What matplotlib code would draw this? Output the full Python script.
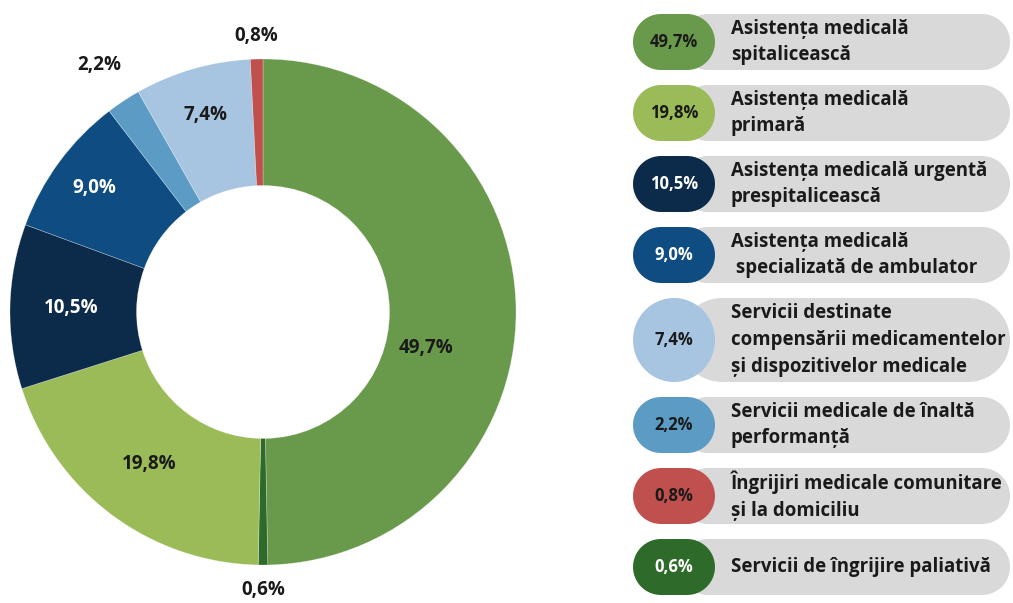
import numpy as np
import matplotlib
matplotlib.use("Agg")
import matplotlib.pyplot as plt
from matplotlib.patches import Polygon

plt.rcParams['font.family'] = ['Open Sans', 'DejaVu Sans']

# legend order
categories = [
    "Asistența medicală\nspitalicească",
    "Asistența medicală\nprimară",
    "Asistența medicală urgentă\nprespitalicească",
    "Asistența medicală\n specializată de ambulator",
    "Servicii destinate\ncompensării medicamentelor\nși dispozitivelor medicale",
    "Servicii medicale de înaltă\nperformanță",
    "Îngrijiri medicale comunitare\nși la domiciliu",
    "Servicii de îngrijire paliativă",
]
shares = [49.7, 19.8, 10.5, 9.0, 7.4, 2.2, 0.8, 0.6]
colors = ["#699a4c", "#9bbb59", "#0c2a49", "#0f4c81", "#a7c4e0", "#5b9bc4", "#c0504d", "#2e6b2a"]
text_colors = ["#1a1a1a", "#1a1a1a", "white", "white", "#1a1a1a", "#1a1a1a", "#1a1a1a", "white"]

# order of the slices around the ring, clockwise from 12 o'clock
pie_order = [0, 7, 1, 2, 3, 5, 4, 6]
# label placement: radius as fraction of outer radius, angular nudge in degrees
label_r = [0.66, 1.1, 0.75, 0.76, 0.83, 1.17, 0.81, 1.09]
label_nudge = [-13, 0, 0, 0, 0, 0, 0, 0]


def fmt(v):
    return f"{v:.1f}%".replace('.', ',')


def stadium(x0, y0, w, h, **kw):
    # rectangle with fully rounded left/right ends
    r = min(w, h) / 2
    ry = h / 2
    t = np.linspace(-np.pi / 2, np.pi / 2, 40)
    right = np.column_stack([x0 + w - r + r * np.cos(t), y0 + ry + ry * np.sin(t)])
    left = np.column_stack([x0 + r - r * np.cos(t), y0 + ry - ry * np.sin(t)])
    return Polygon(np.vstack([right, left]), closed=True, **kw)


W, H = 1013, 603
fig = plt.figure(figsize=(W / 100, H / 100), dpi=100)
ax = fig.add_axes([0, 0, 1, 1])

cx, cy, R = 263, H - 312, 253
vals = [shares[i] for i in pie_order]
cols = [colors[i] for i in pie_order]
ax.pie(vals, colors=cols, startangle=90, counterclock=False, center=(cx, cy), radius=R,
       wedgeprops=dict(width=R * 0.5, edgecolor=(1, 1, 1, 0.35), linewidth=0.5), frame=True)
ax.set_xlim(0, W)
ax.set_ylim(0, H)
ax.set_aspect('equal')
ax.axis('off')

cum = np.cumsum([0] + vals)
for k, i in enumerate(pie_order):
    mid = 90 - 360 * (cum[k] + cum[k + 1]) / 2 / 100 + label_nudge[k]
    r = R * label_r[k]
    x = cx + r * np.cos(np.radians(mid))
    y = cy + r * np.sin(np.radians(mid))
    inside = label_r[k] < 1
    tc = text_colors[i] if inside else "#1a1a1a"
    ax.text(x, y, fmt(shares[i]), ha='center', va='center', fontsize=13.5,
            fontweight='bold', color=tc)

# legend pills
top = H - 14
gap = 15
for i, lab in enumerate(categories):
    nlines = lab.count('\n') + 1
    h = 56 if nlines <= 2 else 84
    yc = top - h / 2
    ax.add_patch(stadium(680, yc - h / 2, 330, h, facecolor="#d9d9d9", edgecolor='none'))
    bw = 82
    ax.add_patch(stadium(674 - bw / 2, yc - h / 2, bw, h, facecolor=colors[i], edgecolor='none'))
    ax.text(674, yc, fmt(shares[i]), ha='center', va='center', fontsize=12,
            fontweight='bold', color=text_colors[i])
    ax.text(731, yc, lab, ha='left', va='center', fontsize=13.4, fontweight='bold',
            color="#1a1a1a", linespacing=1.45)
    top -= h + gap

fig.savefig("out.png", dpi=100)
